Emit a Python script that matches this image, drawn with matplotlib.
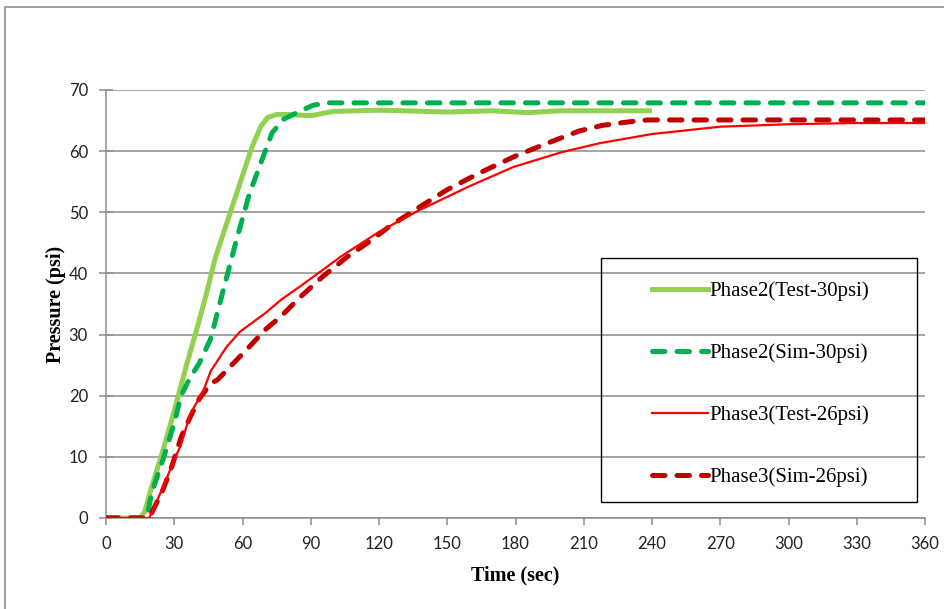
import matplotlib.pyplot as plt
from matplotlib.patches import Rectangle
from matplotlib.lines import Line2D

# Phase2 test (30 psi)
t_p2_test = [0, 15, 17, 20, 25, 30, 35, 40, 44, 48, 52, 56, 60, 64, 68, 71, 75, 80, 90, 100,
             120, 150, 170, 185, 200, 240]
p_p2_test = [0, 0, 1, 5, 11, 17.5, 24.5, 31, 36.5, 42.5, 47, 51.5, 56, 60.5, 64, 65.5, 66, 66, 65.8, 66.5,
             66.7, 66.4, 66.6, 66.3, 66.6, 66.6]

# Phase2 sim (30 psi)
t_p2_sim = [0, 18, 20, 25, 30, 33, 37, 41, 46, 51, 57, 63, 69, 73, 78, 85, 91, 97, 360]
p_p2_sim = [0, 0, 4, 9.5, 15.5, 20, 23, 25.3, 29.3, 36.5, 45, 53, 59, 63, 65.2, 66.5, 67.5, 67.9, 67.9]

# Phase3 test (26 psi)
t_p3_test = [0, 19, 25, 30, 33, 37, 43, 46, 53, 59, 70, 77, 85, 95, 103, 120, 138, 160, 179,
             200, 217, 240, 270, 300, 330, 360]
p_p3_test = [0, 0, 5, 9.5, 12, 17, 21, 24, 28, 30.5, 33.5, 35.7, 37.8, 40.5, 42.7, 46.8, 50.4, 54.3, 57.4,
             59.8, 61.3, 62.8, 64, 64.4, 64.6, 64.6]

# Phase3 sim (26 psi)
t_p3_sim = [0, 19, 25, 29, 33, 37, 41, 46, 49, 56, 63, 70, 77, 85, 95, 106, 115, 125, 138, 150,
            164, 180, 194, 208, 218, 230, 238, 360]
p_p3_sim = [0, 0, 4.6, 8.5, 13.2, 16.5, 19.5, 22, 22.6, 25.3, 28, 30.8, 33, 36, 39.4, 42.7, 45, 47.8, 50.9,
            53.7, 56.4, 59.2, 61.3, 63.3, 64.2, 64.8, 65.1, 65.1]

labels = ["Phase2(Test-30psi)", "Phase2(Sim-30psi)", "Phase3(Test-26psi)", "Phase3(Sim-26psi)"]
colors = ["#92D050", "#00B050", "#FF0000", "#C00000"]

fig = plt.figure(figsize=(9.44, 6.09), dpi=100)
ax = fig.add_axes([106 / 944, 1 - 518 / 609, 819 / 944, 428 / 609])

# outer chart border (only left/top visible in crop)
fig.patches.append(Rectangle((5 / 944, -0.1), 1.2, 1 - 7 / 609 + 0.1, transform=fig.transFigure,
                             fill=False, edgecolor="#8c8c8c", linewidth=1.2, clip_on=False))

dash = dict(dashes=(2.5, 2.4), dash_capstyle="round")
ax.plot(t_p2_test, p_p2_test, color=colors[0], lw=3.6, solid_capstyle="butt", zorder=3)
ax.plot(t_p2_sim, p_p2_sim, color=colors[1], lw=3.6, zorder=4, **dash)
ax.plot(t_p3_test, p_p3_test, color=colors[2], lw=1.6, zorder=5)
ax.plot(t_p3_sim, p_p3_sim, color=colors[3], lw=3.6, zorder=4, **dash)

ax.set_xlim(0, 360)
ax.set_ylim(0, 70)
ax.set_xticks(range(0, 361, 30))
ax.set_yticks(range(0, 71, 10))
ax.grid(axis="y", color="#8c8c8c", lw=1.1)
ax.set_axisbelow(True)
for s in ["top", "right"]:
    ax.spines[s].set_visible(False)
for s in ["left", "bottom"]:
    ax.spines[s].set_color("#8c8c8c")
    ax.spines[s].set_linewidth(1.1)
ax.tick_params(axis="y", direction="inout", length=10, color="#8c8c8c", width=1.1, pad=8)
ax.tick_params(axis="x", direction="out", length=5, color="#8c8c8c", width=1.1, pad=8)
for lab in ax.get_xticklabels() + ax.get_yticklabels():
    lab.set_fontfamily("Lato")
    lab.set_fontsize(12)
    lab.set_color("#222222")

ax.set_xlabel("Time (sec)", fontfamily="Liberation Serif", fontweight="bold", fontsize=14.5, labelpad=10)
ax.set_ylabel("Pressure (psi)", fontfamily="Liberation Serif", fontweight="bold", fontsize=14.5, labelpad=2)

# legend box
ax.add_patch(Rectangle((0.604, 0.037), 0.386, 0.570, transform=ax.transAxes, fill=False,
                       edgecolor="black", lw=1.0, zorder=6))
handles = [
    Line2D([], [], color=colors[0], lw=3.6),
    Line2D([], [], color=colors[1], lw=3.6, **dash),
    Line2D([], [], color=colors[2], lw=1.6),
    Line2D([], [], color=colors[3], lw=3.6, **dash),
]
leg = ax.legend(handles, labels, loc="center", bbox_to_anchor=(0.799, 0.313), frameon=False,
                prop={"family": "Liberation Serif", "size": 15}, labelspacing=2.03,
                handlelength=2.7, handletextpad=0.05)
leg.set_zorder(7)

fig.savefig("out.png", dpi=100)
